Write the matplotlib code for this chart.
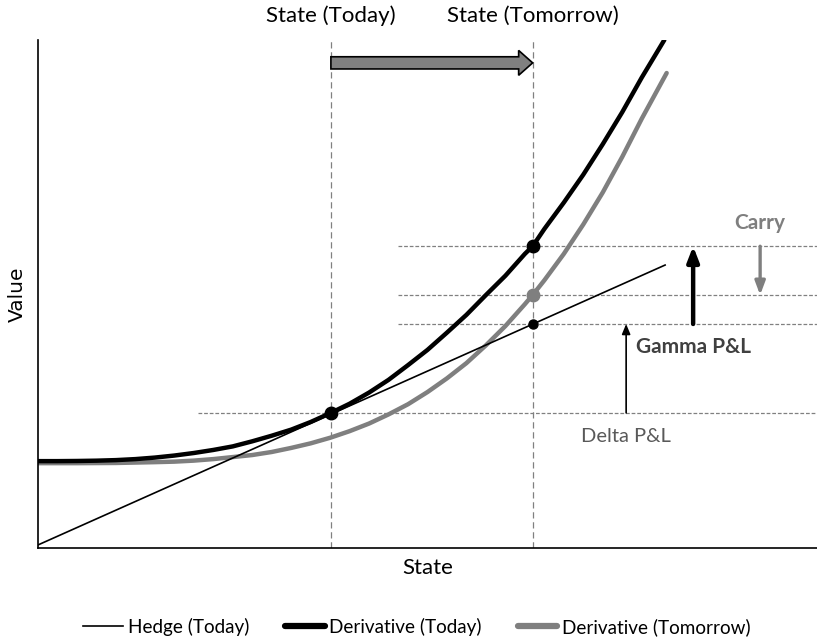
import numpy as np
import matplotlib
matplotlib.use("Agg")
import matplotlib.pyplot as plt
from matplotlib.patches import FancyArrow
from matplotlib.lines import Line2D

plt.rcParams['font.family'] = ['Lato', 'DejaVu Sans']

# states (x) on a 0-100 scale
state_today = 37.6
state_tomorrow = 63.5

# derivative value curves
x_today = [0, 2.5, 5, 7.5, 10, 12.5, 15, 17.5, 20, 22.5, 25, 27.5, 30, 32.5, 35, 37.6, 40,
           42.5, 45, 47.5, 50, 52.5, 55, 57.5, 60, 62.5, 63.5, 65, 67.5, 70, 72.5, 75, 77.5, 80.4]
y_today = [17.1, 17.1, 17.13, 17.19, 17.3, 17.5, 17.8, 18.2, 18.7, 19.3, 20.0, 21.0, 22.1, 23.3,
           24.8, 26.6, 28.4, 30.6, 33.1, 36.0, 39.0, 42.4, 45.9, 49.8, 53.6, 57.9, 59.4, 62.8,
           68.0, 73.5, 79.5, 85.8, 92.6, 100.0]

x_tomorrow = [0, 5, 10, 15, 17.5, 20, 22.5, 25, 27.5, 30, 32.5, 35, 37.5, 40, 42.5, 45, 47.5,
              50, 52.5, 55, 57.5, 60, 62.5, 63.5, 65, 67.5, 70, 72.5, 75, 77.5, 80.7]
y_tomorrow = [16.7, 16.7, 16.74, 16.9, 17.0, 17.2, 17.5, 17.9, 18.3, 18.9, 19.7, 20.6, 21.7, 23.0,
              24.5, 26.3, 28.3, 30.7, 33.4, 36.4, 39.9, 43.7, 48.0, 49.8, 52.7, 57.9, 63.7, 70.0,
              77.0, 84.5, 93.5]

# hedge (tangent at today's state)
x_hedge = [0, 80.5]
y_hedge = [0.6, 55.7]

# values at the two states
v_today = 26.6        # derivative today at today's state
v_deriv_tmr = 59.4    # derivative today curve at tomorrow's state
v_carry = 49.8        # derivative tomorrow curve at tomorrow's state
v_hedge_tmr = 44.1    # hedge at tomorrow's state

fig = plt.figure(figsize=(8.17, 6.41), dpi=100)
ax = fig.add_axes([38/817, 93/641, 779/817, 508/641])
ax.set_xlim(0, 100)
ax.set_ylim(0, 100)
ax.set_xticks([])
ax.set_yticks([])
for s in ['top', 'right']:
    ax.spines[s].set_visible(False)
for s in ['left', 'bottom']:
    ax.spines[s].set_linewidth(1.2)

dash_v = (0, (5, 3))
dash_h = (0, (3, 1.5))
gcol = '#808080'
for xv in [state_today, state_tomorrow]:
    ax.axvline(xv, color=gcol, lw=0.9, ls=dash_v, zorder=1)
ax.plot([20.5, 100], [v_today, v_today], color=gcol, lw=0.9, ls=dash_h, zorder=1)
for yv in [v_deriv_tmr, v_carry, v_hedge_tmr]:
    ax.plot([46.2, 100], [yv, yv], color=gcol, lw=0.9, ls=dash_h, zorder=1)

ax.plot(x_hedge, y_hedge, color='black', lw=1.2, zorder=3)
ax.plot(x_tomorrow, y_tomorrow, color='#7f7f7f', lw=3.2, zorder=2,
        solid_capstyle='round', solid_joinstyle='round')
ax.plot(x_today, y_today, color='black', lw=3.2, zorder=4,
        solid_capstyle='round', solid_joinstyle='round')

ax.plot([state_today, state_tomorrow], [v_today, v_deriv_tmr], 'o', color='black', ms=9, zorder=5)
ax.plot([state_tomorrow], [v_carry], 'o', color='#7f7f7f', ms=9, zorder=5)
ax.plot([state_tomorrow], [v_hedge_tmr], 'o', color='black', ms=6.5, zorder=5)

# block arrow from today to tomorrow
ax.add_patch(FancyArrow(state_today, 95.5, state_tomorrow - state_today, 0,
                        width=2.4, head_width=4.9, head_length=1.8,
                        length_includes_head=True, facecolor='#808080',
                        edgecolor='black', lw=1.2, zorder=5, clip_on=False))

# P&L arrows
ax.annotate('', xy=(75.5, v_hedge_tmr), xytext=(75.5, v_today),
            arrowprops=dict(arrowstyle='-|>,head_length=0.6,head_width=0.25',
                            color='black', lw=1.2, shrinkA=0, shrinkB=0))
ax.annotate('', xy=(84.1, v_deriv_tmr), xytext=(84.1, v_hedge_tmr),
            arrowprops=dict(arrowstyle='-|>,head_length=0.9,head_width=0.35',
                            color='black', lw=3.2, shrinkA=0, shrinkB=0))
ax.annotate('', xy=(92.7, v_carry), xytext=(92.7, v_deriv_tmr),
            arrowprops=dict(arrowstyle='-|>,head_length=0.8,head_width=0.3',
                            color='#7f7f7f', lw=2.4, shrinkA=0, shrinkB=0))

ax.text(92.7, 64.0, 'Carry', color='#7f7f7f', fontsize=15, fontweight='bold',
        ha='center', va='center')
ax.text(76.8, 39.6, 'Gamma P&L', color='#404040', fontsize=15, fontweight='bold',
        ha='left', va='center')
ax.text(75.5, 21.9, 'Delta P&L', color='#595959', fontsize=14.5, ha='center', va='center')

ax.text(state_today, 1.047, 'State (Today)', transform=ax.get_xaxis_transform(),
        ha='center', va='center', fontsize=16)
ax.text(state_tomorrow, 1.047, 'State (Tomorrow)', transform=ax.get_xaxis_transform(),
        ha='center', va='center', fontsize=16)

xl = ax.set_xlabel('State', fontsize=16)
ax.xaxis.set_label_coords(0.5, -(568 - 548) / 508)
xl.set_va('center')
yl = ax.set_ylabel('Value', fontsize=14.5, family='DejaVu Sans')
ax.yaxis.set_label_coords(-(38 - 17.5) / 779, 0.5)
yl.set_va('center')

# legend samples (thicker than the plotted curves, as in the original)
handles = [Line2D([], [], color='black', lw=1.2),
           Line2D([], [], color='black', lw=4.5, solid_capstyle='round'),
           Line2D([], [], color='#7f7f7f', lw=4.5, solid_capstyle='round')]
labels = ['Hedge (Today)', 'Derivative (Today)', 'Derivative (Tomorrow)']
fig.legend(handles, labels, loc='center', bbox_to_anchor=(417/817, 1 - 627/641),
           ncol=3, frameon=False, fontsize=13.6, handlelength=2.1, handletextpad=0.25,
           columnspacing=1.9)

fig.savefig('out.png', dpi=100)
